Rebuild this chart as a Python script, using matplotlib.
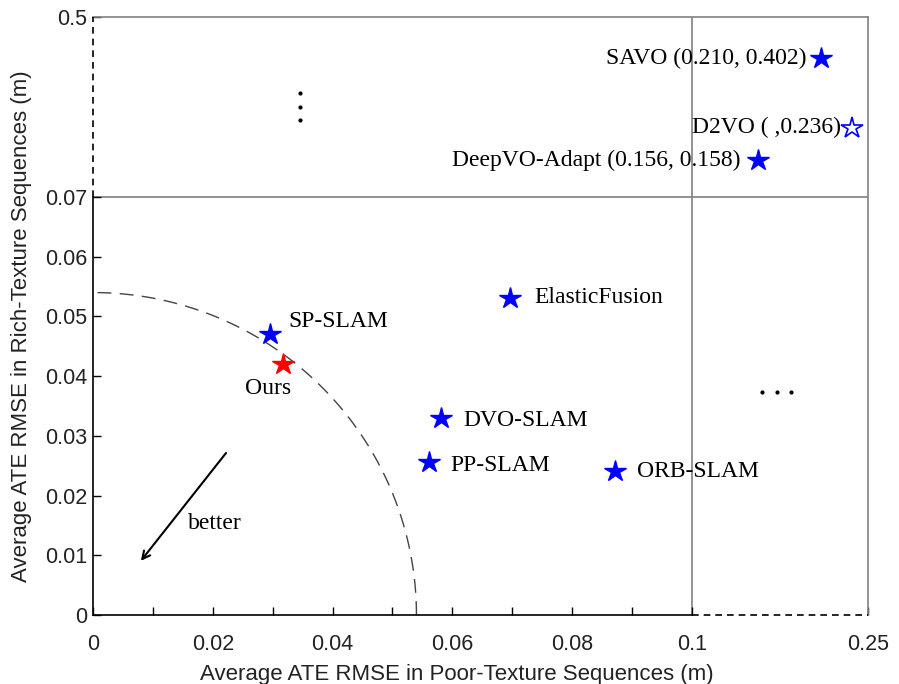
import numpy as np
import matplotlib
matplotlib.use("Agg")
import matplotlib.pyplot as plt

# ---------------- data ----------------
methods = ["SP-SLAM", "ElasticFusion", "DVO-SLAM", "PP-SLAM", "ORB-SLAM"]
poor_x = [0.0295, 0.0696, 0.0581, 0.0561, 0.0871]
rich_y = [0.0471, 0.0531, 0.0330, 0.0256, 0.0241]

ours_name = "Ours"
ours_x = [0.0317]
ours_y = [0.0420]

far_methods = ["SAVO (0.210, 0.402)", "DeepVO-Adapt (0.156, 0.158)"]
far_x = [0.210, 0.156]
far_y = [0.402, 0.158]

hollow_name = "D2VO ( ,0.236)"
hollow_x = [0.2364]
hollow_y = [0.236]

arc_radius = 0.054

xticks_major = [0, 0.02, 0.04, 0.06, 0.08, 0.1, 0.25]
xtick_labels = ["0", "0.02", "0.04", "0.06", "0.08", "0.1", "0.25"]
xticks_minor = [0.01, 0.03, 0.05, 0.07, 0.09]
yticks = [0, 0.01, 0.02, 0.03, 0.04, 0.05, 0.06, 0.07, 0.5]
ytick_labels = ["0", "0.01", "0.02", "0.03", "0.04", "0.05", "0.06", "0.07", "0.5"]

x_break = 0.1
y_break = 0.07

# ---------------- piecewise scales ----------------
KX = (176 / 599) * (0.1 / 0.15)
KY = (180 / 418) * (0.07 / 0.43)


def fx(x):
    x = np.asarray(x, dtype=float)
    return np.where(x <= x_break, x, x_break + (x - x_break) * KX)


def fx_inv(u):
    u = np.asarray(u, dtype=float)
    return np.where(u <= x_break, u, x_break + (u - x_break) / KX)


def fy(y):
    y = np.asarray(y, dtype=float)
    return np.where(y <= y_break, y, y_break + (y - y_break) * KY)


def fy_inv(u):
    u = np.asarray(u, dtype=float)
    return np.where(u <= y_break, u, y_break + (u - y_break) / KY)


sans = ["Liberation Sans", "DejaVu Sans"]
serif = ["Liberation Serif", "DejaVu Serif"]

fig = plt.figure(figsize=(8.99, 6.84), dpi=100)
ax = fig.add_axes([93 / 899, 1 - 615 / 684, 775 / 899, 598 / 684])
ax.set_xscale("function", functions=(fx, fx_inv))
ax.set_yscale("function", functions=(fy, fy_inv))
ax.set_xlim(0, 0.25)
ax.set_ylim(0, 0.5)

gray = "#808080"
# spines
ax.spines["top"].set_color(gray)
ax.spines["right"].set_color(gray)
ax.spines["top"].set_linewidth(1.2)
ax.spines["right"].set_linewidth(1.2)
ax.spines["left"].set_bounds(0, y_break)
ax.spines["bottom"].set_bounds(0, x_break)
ax.spines["left"].set_linewidth(1.2)
ax.spines["bottom"].set_linewidth(1.2)
ax.plot([0, 0], [y_break, 0.5], color="black", lw=1.2, ls=(0, (4, 3)), clip_on=False, zorder=5)
ax.plot([x_break, 0.25], [0, 0], color="black", lw=1.2, ls=(0, (4, 3)), clip_on=False, zorder=5)

# break lines
ax.axvline(x_break, color=gray, lw=1.2, zorder=1)
ax.axhline(y_break, color=gray, lw=1.2, zorder=1)

# ticks
ax.set_xticks(xticks_major)
ax.set_xticklabels(xtick_labels, fontfamily=sans, fontsize=15.5)
ax.set_xticks(xticks_minor, minor=True)
ax.set_yticks(yticks)
ax.set_yticklabels(ytick_labels, fontfamily=sans, fontsize=15.5)
ax.yaxis.set_minor_locator(matplotlib.ticker.NullLocator())
ax.tick_params(axis="x", which="both", direction="in", length=6, width=1, pad=14, colors="black",
               labelcolor="#222222")
ax.tick_params(axis="y", which="both", direction="in", length=6, width=1, pad=4, labelcolor="#222222")

# quarter circle
theta = np.linspace(0, np.pi / 2, 200)
ax.plot(arc_radius * np.cos(theta), arc_radius * np.sin(theta), color="#444444", lw=1.0,
        ls=(0, (10, 6)), zorder=2)

# arrow + text
ax.annotate("", xy=(0.0077, 0.0087), xytext=(0.0225, 0.0275),
            arrowprops=dict(arrowstyle="->", color="black", lw=1.5, mutation_scale=14))
ax.text(0.0204, 0.0154, "better", fontfamily=serif, fontsize=17, ha="center", va="center")

# markers
ms = 16
ax.plot(poor_x, rich_y, ls="none", marker="*", ms=ms, color="#0000ff", mec="#0000ff", zorder=4)
ax.plot(ours_x, ours_y, ls="none", marker="*", ms=ms, color="#ff0000", mec="#ff0000", zorder=4)
ax.plot(far_x, far_y, ls="none", marker="*", ms=ms, color="#0000ff", mec="#0000ff", zorder=4)
ax.plot(hollow_x, hollow_y, ls="none", marker="*", ms=ms, mfc="white", mec="#0000ff", mew=1.2, zorder=4)

lab_fs = 17
offsets = {
    "SP-SLAM": (19, 12, "left"),
    "ElasticFusion": (24, 0, "left"),
    "DVO-SLAM": (22, -3, "left"),
    "PP-SLAM": (21, -3, "left"),
    "ORB-SLAM": (22, 0, "left"),
}
for name, x, y in zip(methods, poor_x, rich_y):
    dx, dy, ha = offsets[name]
    ax.annotate(name, (x, y), xytext=(dx, dy), textcoords="offset pixels", ha=ha, va="center",
                fontfamily=serif, fontsize=lab_fs)
ax.annotate(ours_name, (ours_x[0], ours_y[0]), xytext=(-15, -24), textcoords="offset pixels",
            ha="center", va="center", fontfamily=serif, fontsize=lab_fs)
far_off = [(-15, 0), (-17, 0)]
for name, x, y, (dx, dy) in zip(far_methods, far_x, far_y, far_off):
    ax.annotate(name, (x, y), xytext=(dx, dy), textcoords="offset pixels", ha="right", va="center",
                fontfamily=serif, fontsize=lab_fs)
ax.annotate(hollow_name, (hollow_x[0], hollow_y[0]), xytext=(-11, 0), textcoords="offset pixels",
            ha="right", va="center", fontfamily=serif, fontsize=lab_fs)

# ellipsis dots
vdots_x = [0.0346, 0.0346, 0.0346]
vdots_y = [0.318, 0.285, 0.254]
hdots_x = [0.1597, 0.1725, 0.1844]
hdots_y = [0.0373, 0.0373, 0.0373]
ax.plot(vdots_x, vdots_y, ls="none", marker="o", ms=2.0, color="black")
ax.plot(hdots_x, hdots_y, ls="none", marker="o", ms=2.0, color="black")

# axis labels
ax.set_xlabel("Average ATE RMSE in Poor-Texture Sequences (m)", fontfamily=sans, fontsize=16,
              color="#222222")
ax.set_ylabel("Average ATE RMSE in Rich-Texture Sequences (m)", fontfamily=sans, fontsize=16,
              color="#222222")
ax.xaxis.set_label_coords((457 - 93) / 775, -(664 - 615) / 598)
ax.yaxis.set_label_coords(-(93 - 32) / 775, 0.5 - 10 / 598)

fig.savefig("out.png", dpi=100)
